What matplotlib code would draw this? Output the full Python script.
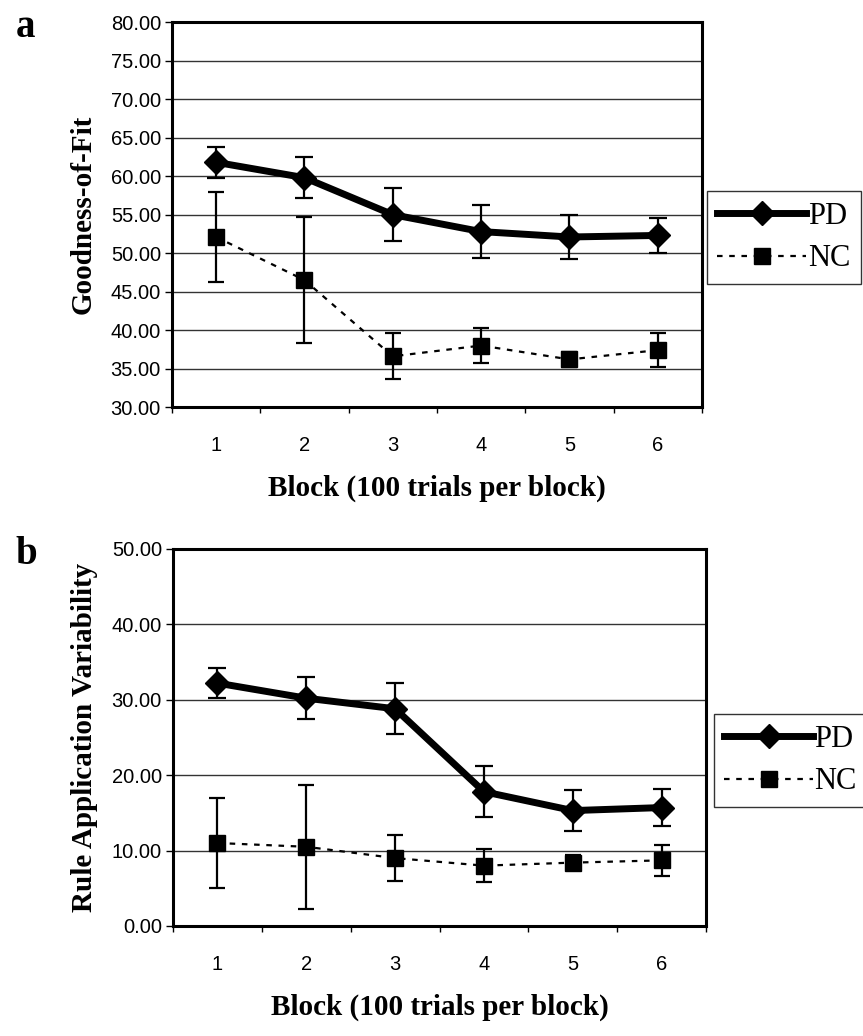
import matplotlib
matplotlib.use("Agg")
import matplotlib.pyplot as plt

blocks = [1, 2, 3, 4, 5, 6]
series_names = ["PD", "NC"]

# panel a: goodness-of-fit
gof_pd = [61.8, 59.8, 55.0, 52.8, 52.1, 52.3]
gof_pd_err = [2.0, 2.7, 3.4, 3.4, 2.8, 2.3]
gof_nc = [52.1, 46.5, 36.6, 38.0, 36.2, 37.4]
gof_nc_err = [5.9, 8.2, 3.0, 2.3, 1.0, 2.2]
gof_ticks = [30, 35, 40, 45, 50, 55, 60, 65, 70, 75, 80]

# panel b: rule application variability
rav_pd = [32.2, 30.2, 28.8, 17.8, 15.3, 15.7]
rav_pd_err = [2.0, 2.8, 3.4, 3.4, 2.7, 2.4]
rav_nc = [11.0, 10.5, 9.0, 8.0, 8.4, 8.7]
rav_nc_err = [6.0, 8.2, 3.0, 2.2, 1.0, 2.1]
rav_ticks = [0, 10, 20, 30, 40, 50]

SERIF = "Liberation Serif"
SANS = "Liberation Sans"


def draw_panel(ax, pd, pd_err, nc, nc_err, yticks, ylabel, letter, legend_pos):
    ax.set_xlim(0.5, 6.5)
    ax.set_ylim(yticks[0], yticks[-1])
    ax.set_yticks(yticks)
    ax.set_yticklabels(["%.2f" % t for t in yticks], family=SANS, fontsize=14.5)
    ax.set_xticks(blocks)
    ax.set_xticklabels([str(b) for b in blocks], family=SANS, fontsize=14.5)
    ax.set_xticks([b + 0.5 for b in range(0, 7)], minor=True)
    ax.tick_params(axis="x", which="major", length=0, pad=21)
    ax.tick_params(axis="x", which="minor", length=4, width=1, direction="out")
    ax.tick_params(axis="y", length=5, width=1, pad=3)
    ax.grid(axis="y", color="#333333", linewidth=1.0)
    ax.set_axisbelow(True)
    for sp in ax.spines.values():
        sp.set_linewidth(2.2)

    ax.errorbar(blocks, nc, yerr=nc_err, color="black", linestyle=(0, (2.5, 3)),
                linewidth=1.6, marker="s", markersize=11, capsize=6,
                elinewidth=1.6, capthick=1.6, label=series_names[1], zorder=3)
    ax.errorbar(blocks, pd, yerr=pd_err, color="black", linestyle="-",
                linewidth=5, marker="D", markersize=12, capsize=6.5,
                elinewidth=1.6, capthick=1.6, label=series_names[0], zorder=4)

    ax.set_ylabel(ylabel, family=SERIF, fontweight="bold", fontsize=21, labelpad=10)
    ax.set_xlabel("Block (100 trials per block)", family=SERIF, fontweight="bold",
                  fontsize=21, labelpad=14)
    ax.text(-0.295, 1.035, letter, transform=ax.transAxes, family=SERIF,
            fontweight="bold", fontsize=28, va="top", ha="left")

    handles, labels = ax.get_legend_handles_labels()
    handles = [h[0] for h in handles][::-1]
    labels = labels[::-1]
    leg = ax.legend(handles, labels, loc="center left", bbox_to_anchor=legend_pos,
                    bbox_transform=ax.figure.transFigure, frameon=True, fancybox=False,
                    edgecolor="black", prop={"family": SERIF, "size": 22},
                    handlelength=2.9, handletextpad=0.05, borderpad=0.35,
                    borderaxespad=0, labelspacing=0.45)
    leg.get_frame().set_linewidth(1.0)


def main() -> None:
    fig = plt.figure(figsize=(8.63, 10.36), dpi=100)
    ax_a = fig.add_axes([0.1993, 0.607, 0.614, 0.3716])
    ax_b = fig.add_axes([0.2005, 0.1062, 0.6176, 0.364])

    draw_panel(ax_a, gof_pd, gof_pd_err, gof_nc, gof_nc_err, gof_ticks,
               "Goodness-of-Fit", "a", (0.819, 0.7708))
    draw_panel(ax_b, rav_pd, rav_pd_err, rav_nc, rav_nc_err, rav_ticks,
               "Rule Application Variability", "b", (0.827, 0.2659))

    fig.savefig("out.png", dpi=100)


if __name__ == "__main__":
    main()
